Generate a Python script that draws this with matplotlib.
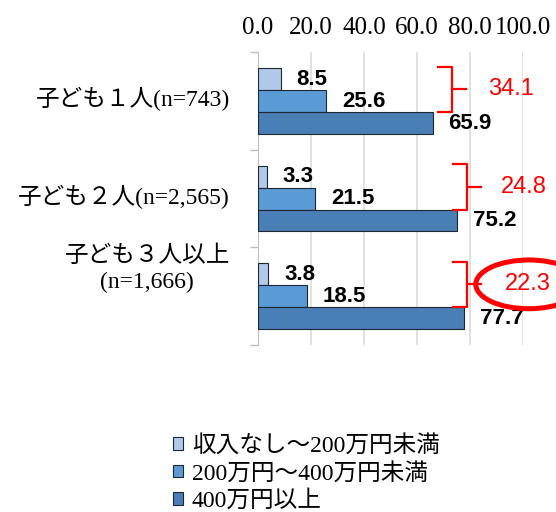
import matplotlib
matplotlib.use("Agg")
import matplotlib.pyplot as plt
from matplotlib.patches import Ellipse
import numpy as np

plt.rcParams['font.family'] = ['Liberation Serif', 'Noto Sans CJK JP']

# income share by number of children (%)
groups = ['子ども１人(n=743)', '子ども２人(n=2,565)', '子ども３人以上\n(n=1,666)']
series_names = ['収入なし～200万円未満', '200万円～400万円未満', '400万円以上']
income_low = [8.5, 3.3, 3.8]
income_mid = [25.6, 21.5, 18.5]
income_high = [65.9, 75.2, 77.7]
x_ticks = [0, 20, 40, 60, 80, 100]

colors = ['#B0C9E8', '#5B9BD5', '#4A7EB6']
bar_h = 0.224

# bracket layout (data units) per group
bracket_x = [73.2, 78.9, 78.9]
sum_text_x = [86.8, 91.7, 93.2]
label_dy = [2, 2, 27]

fig = plt.figure(figsize=(5.56, 5.12), dpi=100)
ax = fig.add_axes([0.464, 0.3262, 0.4766, 0.5713])

y = np.arange(len(groups))
bars = []
for k, vals in enumerate([income_low, income_mid, income_high]):
    b = ax.barh(y + (k - 1) * bar_h, vals, height=bar_h, color=colors[k],
                edgecolor='#1c2733', linewidth=0.8, label=series_names[k], zorder=3)
    bars.append(b)
    for yi, v in zip(y, vals):
        ax.annotate(f'{v:.1f}', xy=(v, yi + (k - 1) * bar_h), xytext=(16, 0),
                    textcoords='offset pixels', ha='left', va='center',
                    fontsize=16, fontweight='bold', family='Liberation Sans', zorder=4)

ax.set_xlim(0, 100)
ax.set_ylim(len(groups) - 0.5, -0.5)
ax.xaxis.tick_top()
ax.set_xticks(x_ticks)
ax.set_xticklabels([f'{t:.1f}' for t in x_ticks])
ax.tick_params(axis='x', length=0, pad=10, labelsize=18)
ax.grid(axis='x', color='#D9D9D9', linewidth=1.1, zorder=0)

ax.set_yticks([])
ax.set_yticks(np.arange(len(groups) + 1) - 0.5, minor=True)
ax.tick_params(axis='y', which='minor', length=6, color='#BFBFBF', width=1)
for s in ['top', 'right', 'bottom']:
    ax.spines[s].set_visible(False)
ax.spines['left'].set_color('#BFBFBF')

# category labels
for i, g in enumerate(groups):
    ax.annotate(g, xy=(0, i), xycoords=('axes fraction', 'data'),
                xytext=(-28, label_dy[i]), textcoords='offset pixels',
                ha='right', va='center', multialignment='center',
                fontsize=17, linespacing=1.35)

# red brackets with the sum of the two lower income bands
for i in range(len(groups)):
    xv = bracket_x[i]
    top = i - 1.5 * bar_h - 0.02
    bot = i + 0.5 * bar_h
    mid = (top + bot) / 2
    ax.plot([xv - 5.3, xv, xv, xv - 5.3], [top, top, bot, bot], color='red',
            lw=1.6, clip_on=False, zorder=5)
    ax.plot([xv, xv + 5.3], [mid, mid], color='red', lw=1.6, clip_on=False, zorder=5)
    total = income_low[i] + income_mid[i]
    ax.text(sum_text_x[i], mid, f'{total:.1f}', color='red', fontsize=17,
            family='Liberation Sans', ha='left', va='center', clip_on=False)
    if i == len(groups) - 1:
        ax.add_patch(Ellipse((sum_text_x[i] + 9, mid), 40, 0.5, fill=False,
                             edgecolor='red', lw=3.6, clip_on=False, zorder=5))

fig.legend(handles=bars, loc='upper left', bbox_to_anchor=(173 / 556, 1 - 435 / 512),
           frameon=False, fontsize=17, handlelength=0.42, handleheight=0.42,
           handletextpad=0.375, labelspacing=0.24, borderpad=0, borderaxespad=0)

fig.savefig('out.png', dpi=100)
